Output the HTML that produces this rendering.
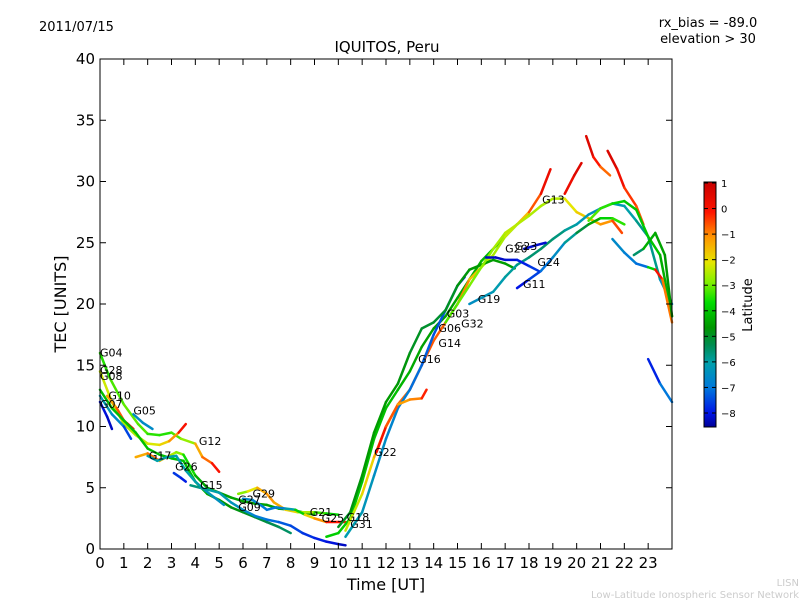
<!DOCTYPE html>
<html><head><meta charset="utf-8"><style>
body{margin:0;background:#fff;}
svg text{font-family:"DejaVu Sans","Liberation Sans",sans-serif;}
</style></head><body>
<svg id="chart" width="800" height="600" xmlns="http://www.w3.org/2000/svg">
<defs><linearGradient id="jet" x1="0" y1="1" x2="0" y2="0"></linearGradient></defs>
<text x="39" y="31" font-size="13">2011/07/15</text>
<text x="708" y="27" font-size="13" text-anchor="middle">rx_bias = -89.0</text>
<text x="708" y="43" font-size="13" text-anchor="middle">elevation &gt; 30</text>
<text x="387" y="52" font-size="15" text-anchor="middle">IQUITOS, Peru</text>
<text x="66" y="304" font-size="16" text-anchor="middle" transform="rotate(-90 66 304)">TEC [UNITS]</text>
<text x="386" y="590" font-size="16" text-anchor="middle">Time [UT]</text>
<text x="799" y="586" font-size="10" fill="#ccc" text-anchor="end">LISN</text>
<text x="799" y="598" font-size="10" fill="#ccc" text-anchor="end">Low-Latitude Ionospheric Sensor Network</text>
<g id="marks"></g><g id="axes"></g>
<rect x="704" y="182" width="12" height="245" fill="url(#jet)" stroke="#000"/>
<g id="cbar"></g>
<text x="752" y="305" font-size="13" text-anchor="middle" transform="rotate(-90 752 305)">Latitude</text>
</svg>
<script>
const xTicks=[0,1,2,3,4,5,6,7,8,9,10,11,12,13,14,15,16,17,18,19,20,21,22,23];
const yTicks=[0,5,10,15,20,25,30,35,40];
const cbTicks=[1,0,-1,-2,-3,-4,-5,-6,-7,-8];
const trackT=[
[0,0.4,1,1.6,2,2.5,3,3.4,4],
[4,4.3,4.7,5],
[0,0.5,1,1.5,2,2.5,2.9,3.3,3.6],
[0.3,0.7,1,1.4],
[0,0.5,1,1.5,2,2.5,3,3.5,4,4.5,5,5.5,6,6.5,7,7.5,8],
[0,0.3,0.5],
[0,0.5,1,1.3],
[1.4,1.8,2.2],
[1.5,2,2.5,3,3.2,3.5,4,4.5,5,5.5,6,6.5,7,7.5,8,8.5,9],
[2,2.4,2.8,3.2,3.6,4,4.4,4.8,5.2],
[3.1,3.4,3.6],
[3.8,4.2,4.6,5,5.5,6,6.5,7,7.5,8,8.5,9,9.5,10,10.3],
[5.8,6.2,6.6,7,7.3,7.8,8.3,9,9.5,10],
[6,6.4,6.8,7,7.4,7.8,8.2,8.6,9,9.5,10.3],
[9.5,10,10.5,11,11.5,12,12.5,13,13.5,14,14.5,15,15.5,16,16.5,17,17.5,18],
[10.3,11,11.5,12,12.5,13,13.5,14,14.5,15,15.5,16,16.5,17,17.5,18,18.5,18.9],
[10.3,11,11.5,12,12.5,13,13.5,14,14.5,15,15.3],
[11.6,12,12.5,13,13.5,13.7],
[10,10.5,11,11.5,12,12.5,13,13.5,14,14.5,15,15.5,16,16.5,17,17.4],
[14.5,15,15.5,16,16.5,17,17.5,18,18.5,19,19.5,20,20.5,21,21.5,21.9],
[15.5,16,16.5,17,17.5,18,18.5,19,19.5,20,20.5,21,21.5,22,22.5,23,23.5,24],
[17.5,18,18.5,19,19.5,20,20.5,21,21.5,22],
[17.8,18.3,18.7],
[19.5,19.9,20.2],
[20.4,20.7,21,21.4],
[21.3,21.7,22,22.5,22.8],
[20.5,21,21.5,22,22.5,23,23.5,24],
[21.5,22,22.5,23,23.3,23.6,24],
[22.4,22.8,23.3,23.7,24],
[23,23.5,24],
[16.2,16.6,17,17.5,18,18.4]];
const trackV=[
[16,14,11.8,10.2,9.4,9.3,9.5,9.0,8.6],
[8.6,7.5,7,6.3],
[14.5,12,10.2,9.3,8.6,8.5,8.8,9.5,10.2],
[12.5,11.5,10.5,9.8],
[13,11.5,10.5,9.5,8.2,7.7,7.4,7.2,5.5,4.5,4,3.4,3,2.6,2.2,1.8,1.3],
[12,10.8,9.8],
[12.5,11,10,9],
[11,10.3,9.8],
[7.5,7.8,7.2,7.7,7.9,7.7,6,5,4.6,4.2,3.9,3.7,3.6,3.3,3.2,3,2.8],
[7.6,7.2,7.5,7.6,6.4,5.5,4.8,4.2,3.6],
[6.2,5.8,5.5],
[5.2,5,4.8,4.6,3.8,3.2,2.7,2.4,2.2,1.9,1.3,0.9,0.6,0.4,0.3],
[4.5,4.7,5.0,4.5,3.8,3.2,3.0,3.0,2.9,2.8],
[4.1,4.0,3.5,3.2,3.4,3.3,3.2,2.8,2.5,2.2,2.2],
[1,1.3,2.5,5.5,9,11.5,13,14.5,16.5,18,19,20.5,22,23.5,24.5,25.5,26.5,27.3],
[1.5,4.5,7.5,10,11.8,13,15,17,18.5,20,22,23,24,25.5,26.5,27.5,29,31],
[1,3,6,9,11.5,13,15,17.5,19.5,21.5,22.2],
[7.9,10,11.8,12.2,12.3,13],
[1.8,3,6,9.5,12,13.5,16,18,18.5,19.5,21.5,22.8,23.2,23.6,23.3,22.9],
[18.5,20,21.5,23,24.5,25.8,26.5,27.2,28,28.6,28.6,27.5,27,26.5,26.8,25.8],
[20,20.5,21,22.2,23.2,23.8,24.5,25.3,26,26.5,27.3,27.8,28.2,28,26.8,25.5,22,20],
[21.3,22,22.7,23.8,25,25.8,26.5,27,27,26.5],
[24.5,24.8,25],
[29,30.5,31.5],
[33.7,32,31.2,30.5],
[32.5,31,29.5,28,26.5],
[26.8,27.8,28.2,28.4,27.7,25.5,24,19],
[25.3,24.2,23.3,23,22.8,22,18.5],
[24,24.5,25.8,24,19],
[15.5,13.5,12],
[23.8,23.8,23.6,23.6,23.1,22.7]];
const trackLat=[
[-3.5,-3.3,-3,-3,-3.2,-3.5,-3.3,-3,-2.3],
[-1.5,-1,-0.3,0.5],
[-2,-2.4,-2.5,-2.5,-2.2,-2,-1.5,-0.5,0.8],
[-1.5,-0.8,-0.2,0.5],
[-4,-4,-4,-4,-4,-4,-4,-4,-4,-4.3,-4.5,-4.7,-4.8,-5,-5.2,-5.4,-5.5],
[-8,-8.2,-8.4],
[-6,-6.3,-7,-8],
[-6.5,-6.5,-6.6],
[-1.5,-1,-0.5,-2.5,-2.5,-3,-4,-4.5,-4.5,-4.4,-4.4,-4.4,-4.4,-4.5,-4.5,-4.5,-4.5],
[-6,-6,-6,-6,-6,-6,-6.2,-6.3,-6.5],
[-7.5,-7.8,-8],
[-5.5,-5.8,-6,-6,-6.2,-6.5,-6.8,-7,-7.2,-7.4,-7.6,-7.8,-8,-8.2,-8.4],
[-3,-2.5,-1.5,-1,-1,-1.5,-2,-3,-3.5,-4],
[-6.5,-6.6,-6.8,-7,-7,-6.5,-5.5,-2,-1.5,-0.5,0.5],
[-3.8,-3.8,-3.8,-4,-4,-4,-4,-4.3,-4.4,-4.5,-4.5,-4.4,-4.3,-4.2,-4,-3.8,-3.6,-3.5],
[-2.5,-2,-1.5,-1,-0.8,-0.5,-0.5,-0.5,-0.6,-0.8,-1,-2,-2.5,-2.5,-2,-1,0,0.8],
[-6,-6.2,-6.4,-6.6,-6.8,-7,-7.2,-7.3,-7.5,-7.8,-8],
[0.5,0,-1,-1.2,-0.5,0.3],
[-5,-4.8,-4.6,-4.5,-4.5,-4.6,-4.8,-5,-5,-5,-4.8,-4.6,-4.5,-4.5,-4.5,-4.5],
[-3.2,-3,-2.9,-2.8,-2.6,-2.4,-2.3,-2.5,-2.4,-2.6,-2.2,-1.8,-1.5,-1.2,-0.8,0],
[-6.5,-6.4,-6.2,-6,-5.8,-5.6,-5.5,-5.5,-5.8,-6,-6.3,-6.5,-6.3,-6,-6,-5.5,-6,-6.8],
[-8.2,-7.8,-7.3,-6.8,-6.2,-5.5,-4.8,-4,-3.5,-3.2],
[-8.2,-8.2,-8.2],
[0.2,0.6,0.9],
[1,0.5,-0.5,-0.8],
[1,0.6,0,-0.5,-0.5],
[-3,-3.2,-3.5,-3.8,-4,-3.8,-4,-4.5],
[-6.5,-6.7,-7,-7.2,-0.2,0.5,-2],
[-6.8,-4.2,-4.3,-4.5,-4.7],
[-8.2,-7.5,-6.5],
[-8.3,-8.3,-8.3,-8,-7.8,-7.5]];
const labelText=["G04","G28","G08","G10","G07","G05","G12","G17","G26","G15","G27","G29","G09","G21","G25","G18","G31","G22","G16","G14","G06","G03","G32","G19","G11","G24","G20","G23","G13"];
const labelT=[0,0,0,0.35,0,1.4,4.15,2.05,3.15,4.2,5.8,6.4,5.8,8.8,9.3,10.35,10.5,11.5,13.35,14.2,14.2,14.55,15.15,15.85,17.75,18.35,17.0,17.4,18.55];
const labelV=[15.7,14.3,13.8,12.2,11.5,11,8.5,7.3,6.4,4.9,3.7,4.2,3.1,2.7,2.2,2.3,1.7,7.6,15.2,16.5,17.7,18.9,18.1,20.1,21.3,23.1,24.2,24.4,28.2];
const X=t=>100+t*572/24, Y=v=>549-v*490/40, CB=l=>183+(1-l)*230/9;
const cmapL=[1.2,0,-1,-2,-2.8,-3.6,-4.6,-5.3,-6,-7,-8,-8.7];
const cmapC=[[200,0,0],[255,20,0],[255,150,0],[230,230,0],[130,240,0],[0,220,0],[0,150,0],[0,140,80],[0,160,170],[0,120,220],[0,20,230],[0,0,150]];
function jet(l){if(l>=cmapL[0])return `rgb(${cmapC[0]})`;for(let i=0;i<cmapL.length-1;i++){if(l<=cmapL[i]&&l>=cmapL[i+1]){const f=(cmapL[i]-l)/(cmapL[i]-cmapL[i+1]);const c=cmapC[i].map((a,k)=>Math.round(a+(cmapC[i+1][k]-a)*f));return `rgb(${c})`;}}return `rgb(${cmapC[cmapC.length-1]})`;}
const NS="http://www.w3.org/2000/svg";
const mk=(tag,at,p)=>{const e=document.createElementNS(NS,tag);for(const k in at)e.setAttribute(k,at[k]);p.appendChild(e);return e;};
const grad=document.getElementById('jet');
const lo=-8.56,hi=1.2;
for(let i=cmapL.length-1;i>=0;i--){mk('stop',{offset:Math.max(0,Math.min(1,(cmapL[i]-lo)/(hi-lo))),'stop-color':`rgb(${cmapC[i]})`},grad);}
const marks=document.getElementById('marks'),axes=document.getElementById('axes'),cbar=document.getElementById('cbar');
trackT.forEach((ts,i)=>{const g=mk('g',{},marks);


for(let j=0;j<ts.length-1;j++){const s=mk('line',{x1:X(ts[j]),y1:Y(trackV[i][j]),x2:X(ts[j+1]),y2:Y(trackV[i][j+1]),stroke:jet((trackLat[i][j]+trackLat[i][j+1])/2),'stroke-width':2.5,'stroke-linecap':'round'},g);

}});
labelText.forEach((s,i)=>{const t=mk('text',{x:X(labelT[i]),y:Y(labelV[i]),'font-size':11},marks);t.textContent=s;

});
const fr=mk('rect',{x:100,y:59,width:572,height:490,fill:'none',stroke:'#000'},axes);


xTicks.forEach(t=>{const x=X(t);mk('line',{x1:x,y1:549,x2:x,y2:543,stroke:'#000'},axes);mk('line',{x1:x,y1:59,x2:x,y2:65,stroke:'#000'},axes);
const l=mk('text',{x:x,y:568,'font-size':15,'text-anchor':'middle'},axes);l.textContent=t;

});
yTicks.forEach(v=>{const y=Y(v);mk('line',{x1:100,y1:y,x2:106,y2:y,stroke:'#000'},axes);mk('line',{x1:672,y1:y,x2:666,y2:y,stroke:'#000'},axes);
const l=mk('text',{x:95,y:y+5,'font-size':15,'text-anchor':'end'},axes);l.textContent=v;

});
cbTicks.forEach(v=>{const y=CB(v);mk('line',{x1:704,y1:y,x2:708,y2:y,stroke:'#000'},cbar);mk('line',{x1:716,y1:y,x2:712,y2:y,stroke:'#000'},cbar);
const l=mk('text',{x:721,y:y+4,'font-size':10},cbar);l.textContent=v<0?'\u2212'+(-v):v;

});
</script>
</body></html>
